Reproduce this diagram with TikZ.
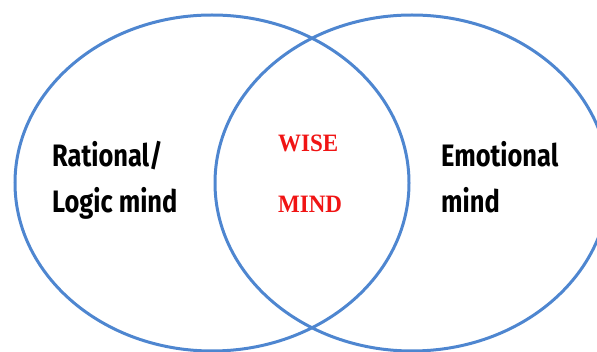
\documentclass[tikz,border=0pt]{standalone}
\usepackage{fontspec}
\newfontfamily\handfont[FakeStretch=0.82]{Fira Sans}
\newfontfamily\wisefont[FakeStretch=0.92]{Liberation Serif}
\definecolor{ringblue}{RGB}{78,134,208}
\definecolor{wisered}{RGB}{240,20,20}
\tikzset{
  ring/.style={draw=ringblue, line width=3pt},
  mindtext/.style={font=\handfont\bfseries\fontsize{31}{34}\selectfont, text=black, inner sep=0pt, anchor=base west},
  wisetext/.style={font=\wisefont\bfseries\fontsize{25}{27}\selectfont, text=wisered, inner sep=0pt, anchor=base west}
}
\begin{document}
\begin{tikzpicture}[x=1pt,y=-1pt]
  \useasboundingbox (0,0) rectangle (597,352);
  % the two overlapping minds
  \begin{scope}
    \clip (0,0) rectangle (597,352);
    \draw[ring] (212,183) ellipse [x radius=197pt, y radius=168pt];
    \draw[ring] (412,183) ellipse [x radius=197pt, y radius=168pt];
  \end{scope}
  % left circle
  \node[mindtext] (rational) at (52,167) {Rational/};
  \node[mindtext] (logic) at (52,213) {Logic mind};
  % overlap
  \node[wisetext] (wise) at (278,152) {WISE};
  \node[wisetext] (wmind) at (278,213) {MIND};
  % right circle
  \node[mindtext] (emotional) at (441,167) {Emotional};
  \node[mindtext] (emind) at (441,213) {mind};
\end{tikzpicture}
\end{document}
